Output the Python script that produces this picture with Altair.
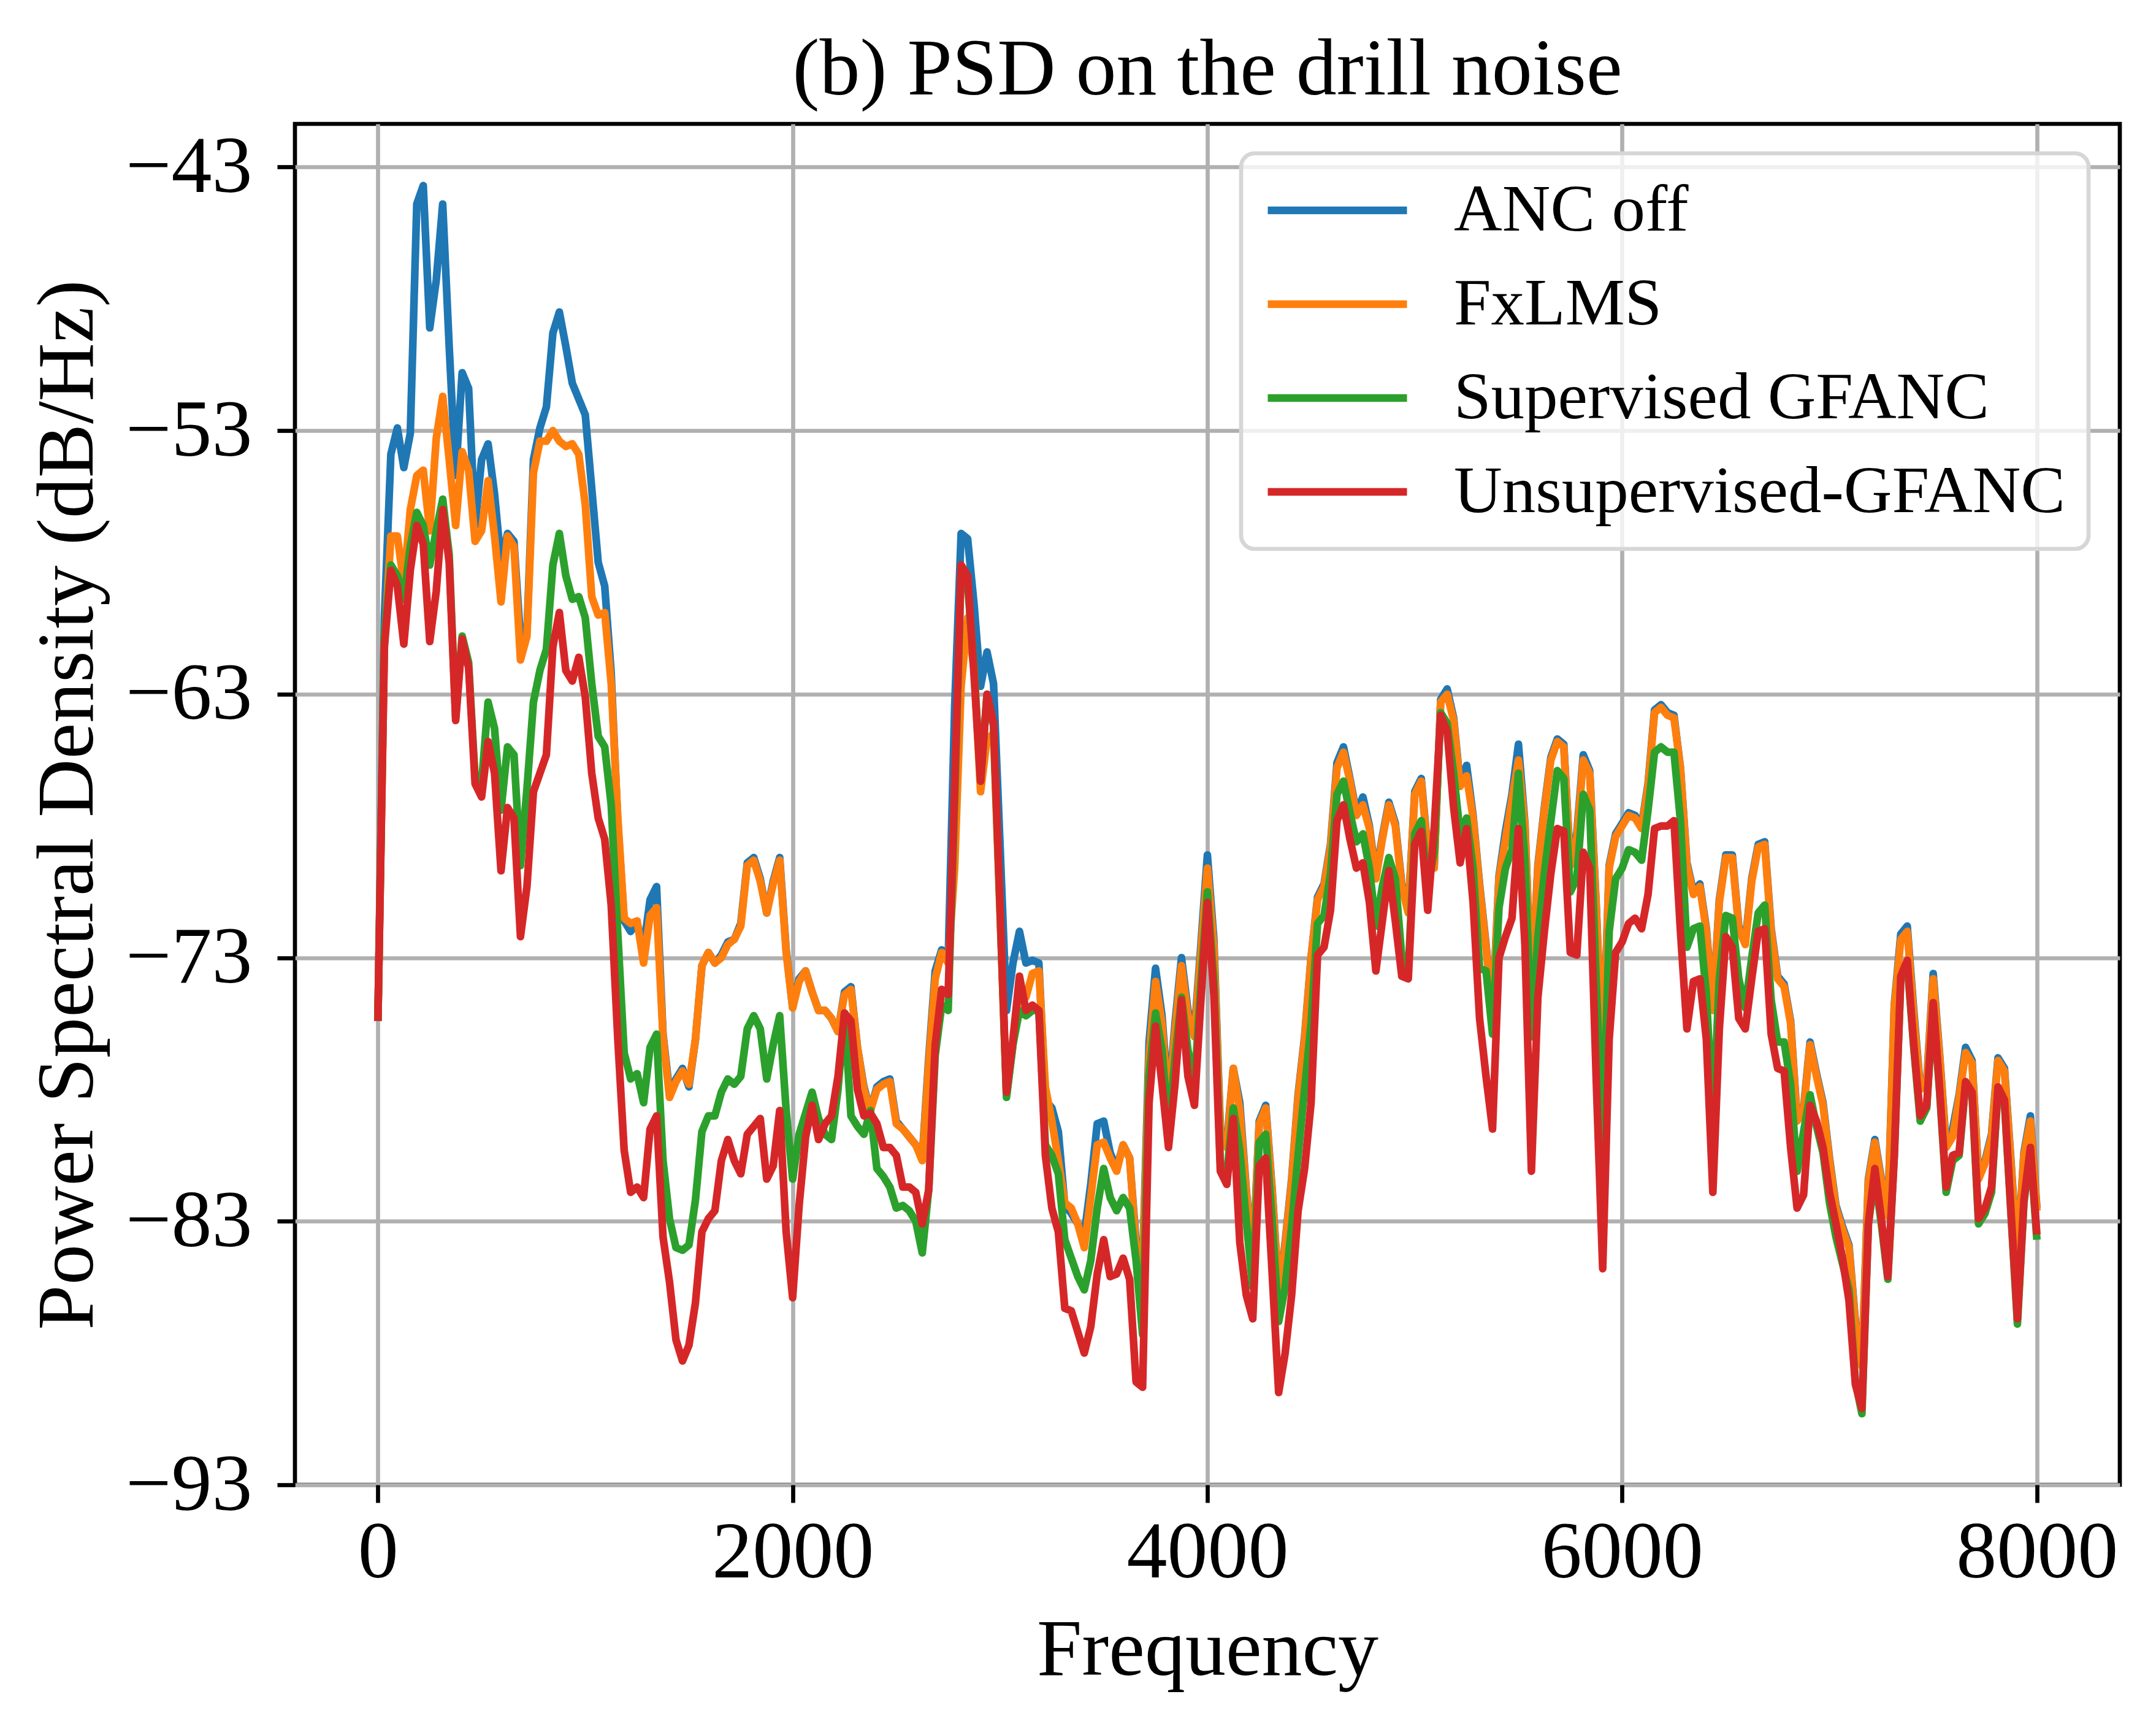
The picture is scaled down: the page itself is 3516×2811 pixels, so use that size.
import altair as alt
import pandas as pd

FREQ_STEP = 31.25  # Hz between PSD bins (257 bins, 0..8000 Hz)

SERIES = ["ANC off", "FxLMS", "Supervised GFANC", "Unsupervised-GFANC"]
COLORS = ["#1f77b4", "#ff7f0e", "#2ca02c", "#d62728"]

X_TICKS = [0, 2000, 4000, 6000, 8000]
Y_TICKS = [-93, -83, -73, -63, -53, -43]

anc_off = [
    -75.4, -60.1, -53.9, -52.9, -54.4, -53.1, -44.4, -43.7, -49.1, -47.3,
    -44.4, -49.8, -54.7, -50.8, -51.4, -56.6, -54.1, -53.5, -55.4, -58.0,
    -56.9, -57.2, -60.9, -60.6, -54.1, -52.9, -52.1, -49.3, -48.5, -49.8,
    -51.2, -51.8, -52.4, -55.2, -58.0, -58.9, -62.2, -67.8, -71.6, -72.0,
    -71.7, -72.6, -70.8, -70.3, -75.9, -78.1, -77.6, -77.2, -77.9, -76.1,
    -73.3, -72.8, -73.2, -72.9, -72.4, -72.3, -71.7, -69.4, -69.2, -70.0,
    -71.3, -70.1, -69.2, -72.7, -74.9, -73.8, -73.5, -74.3, -75.0, -75.0,
    -75.3, -75.8, -74.3, -74.1, -76.4, -77.9, -78.8, -77.9, -77.7, -77.6,
    -79.2, -79.5, -79.8, -80.1, -80.6, -76.8, -73.5, -72.7, -73.1, -63.5,
    -56.9, -57.1, -59.6, -62.7, -61.4, -62.6, -68.7, -75.0, -73.2, -72.0,
    -73.2, -73.1, -73.2, -78.4, -78.7, -79.6, -82.4, -82.7, -83.1, -83.5,
    -81.6, -79.3, -79.2, -80.4, -81.0, -80.1, -80.6, -83.8, -84.8, -76.2,
    -73.4, -75.2, -78.5, -75.5, -73.0, -75.0, -75.8, -72.5, -69.1, -72.3,
    -79.5, -80.0, -77.2, -78.5, -81.8, -84.6, -79.2, -78.6, -81.8, -85.7,
    -83.8, -81.4, -78.2, -76.0, -73.0, -70.7, -70.2, -68.7, -65.6, -65.0,
    -66.2, -67.5, -66.9, -68.0, -69.9, -68.4, -67.1, -67.9, -70.2, -71.2,
    -66.7, -66.2, -68.9, -69.5, -63.2, -62.8, -63.9, -66.4, -65.7, -67.6,
    -70.2, -72.5, -75.1, -69.9, -68.2, -66.8, -64.9, -67.9, -74.5, -69.5,
    -67.3, -65.4, -64.7, -64.9, -69.4, -68.3, -65.3, -65.9, -71.0, -77.1,
    -69.5, -68.3, -67.9, -67.5, -67.6, -68.0, -66.4, -63.6, -63.4, -63.7,
    -63.8, -65.8, -69.4, -70.5, -70.2, -71.9, -74.9, -70.8, -69.1, -69.1,
    -71.8, -72.4, -70.0, -68.7, -68.6, -71.9, -73.7, -74.0, -75.4, -79.1,
    -78.7, -76.2, -77.4, -78.5, -80.6, -82.4, -83.2, -83.9, -86.8, -88.4,
    -81.4, -79.9, -81.4, -82.7, -74.8, -72.1, -71.8, -75.0, -77.9, -77.7,
    -73.6, -76.7, -80.1, -79.5, -78.2, -76.4, -76.9, -81.3, -80.7, -79.7,
    -76.8, -77.2, -80.7, -84.4, -80.4, -79.0, -82.5,
]

fxlms = [
    -75.4, -61.2, -57.0, -57.0, -58.8, -56.0, -54.7, -54.5, -56.8, -53.3,
    -51.7, -54.1, -56.6, -53.8, -54.5, -57.2, -56.8, -54.9, -57.0, -59.5,
    -57.0, -57.4, -61.7, -60.8, -54.6, -53.4, -53.4, -53.0, -53.4, -53.6,
    -53.5, -53.9, -55.8, -59.3, -60.0, -59.9, -62.6, -67.6, -71.5, -71.7,
    -71.6, -73.2, -71.4, -71.1, -76.0, -78.3, -77.7, -77.3, -77.8, -76.1,
    -73.3, -72.8, -73.2, -73.0, -72.5, -72.3, -71.8, -69.5, -69.3, -70.1,
    -71.3, -70.2, -69.3, -72.8, -74.9, -73.9, -73.5, -74.3, -75.0, -75.0,
    -75.3, -75.8, -74.4, -74.2, -76.4, -78.0, -78.8, -78.0, -77.8, -77.7,
    -79.3, -79.5, -79.8, -80.1, -80.7, -77.0, -73.8, -72.8, -73.2, -69.6,
    -62.7, -60.1, -62.1, -66.7, -64.7, -64.5, -71.3, -78.2, -76.3, -74.1,
    -74.5, -73.6, -73.5, -77.9, -79.2, -80.7, -82.3, -82.5, -83.1, -84.0,
    -82.1, -80.1, -80.0, -80.6, -81.1, -80.1, -80.6, -84.0, -85.0, -76.8,
    -73.9, -75.5, -78.8, -75.8, -73.3, -75.2, -76.0, -72.8, -69.6, -72.6,
    -79.7, -80.2, -77.2, -78.8, -81.9, -84.7, -79.3, -78.7, -81.9, -85.8,
    -83.9, -81.5, -78.3, -76.1, -73.0, -70.8, -70.3, -68.8, -65.8, -65.2,
    -66.3, -67.6, -67.2, -68.1, -70.0, -68.5, -67.2, -68.0, -70.3, -71.3,
    -66.8, -66.3, -69.0, -69.6, -63.3, -63.0, -64.0, -66.5, -66.1, -67.7,
    -70.3, -72.6, -75.2, -70.0, -68.5, -67.0, -65.5, -68.0, -74.6, -69.6,
    -67.4, -65.5, -64.8, -65.0, -69.5, -68.5, -65.5, -66.0, -71.1, -77.2,
    -69.6, -68.4, -68.0, -67.6, -67.7, -68.1, -66.5, -63.7, -63.5, -63.8,
    -63.9, -65.8, -69.5, -70.6, -70.3, -72.0, -75.0, -70.9, -69.2, -69.2,
    -71.9, -72.5, -70.1, -68.8, -68.7, -72.0, -73.8, -74.1, -75.5, -79.2,
    -78.8, -76.3, -77.5, -78.6, -80.7, -82.5, -83.3, -84.0, -86.9, -88.5,
    -81.5, -80.0, -81.5, -82.8, -74.9, -72.3, -72.0, -75.2, -78.0, -77.8,
    -73.8, -76.8, -80.2, -79.8, -78.3, -76.6, -77.0, -81.4, -80.8, -79.8,
    -76.9, -77.3, -80.8, -84.5, -80.5, -79.2, -82.6,
]

supervised = [
    -75.4, -60.8, -58.1, -58.5, -59.4, -57.4, -56.1, -56.6, -58.1, -56.8,
    -55.6, -57.7, -63.9, -60.8, -61.8, -66.2, -66.4, -63.3, -64.3, -67.4,
    -65.0, -65.3, -69.5, -66.6, -63.3, -62.1, -61.3, -58.1, -56.9, -58.5,
    -59.4, -59.3, -60.1, -62.6, -64.6, -65.0, -67.2, -72.0, -76.6, -77.6,
    -77.4, -78.5, -76.4, -75.9, -80.7, -82.9, -84.0, -84.1, -83.9, -82.2,
    -79.6, -79.0, -79.0, -78.1, -77.6, -77.8, -77.5, -75.7, -75.2, -75.7,
    -77.6, -76.3, -75.2, -78.8, -81.4, -79.7, -78.9, -78.1, -79.1, -79.7,
    -79.9, -78.0, -75.1, -79.0, -79.4, -79.7, -78.8, -81.0, -81.3, -81.7,
    -82.5, -82.4, -82.6, -83.0, -84.2, -81.8, -76.7, -74.8, -75.0, -67.0,
    -58.3, -58.8, -62.0, -66.3, -63.0, -64.2, -71.1, -78.3, -76.3, -75.0,
    -75.2, -75.0, -75.0, -80.1, -80.5, -81.2, -83.7, -84.4, -85.1, -85.6,
    -84.5, -82.5, -81.0, -82.1, -82.6, -82.1, -82.5, -84.5, -87.3, -77.5,
    -75.1, -76.5, -79.5, -76.8, -74.5, -76.5, -77.8, -74.0, -70.5, -73.9,
    -80.8, -81.2, -78.7, -80.3, -83.0, -85.5, -80.0, -79.7, -83.0, -86.8,
    -85.5, -83.2, -80.5, -78.0, -75.5, -71.7, -71.4, -69.8, -66.8, -66.3,
    -67.5, -68.6, -68.3, -69.6, -71.8, -70.3, -69.2, -70.0, -73.0, -73.5,
    -68.3, -67.8, -70.3, -69.0, -63.7, -64.1, -66.0, -68.3, -67.7, -69.6,
    -73.4, -73.5, -75.9, -71.1, -69.6, -68.9, -66.0, -69.3, -76.0, -72.2,
    -69.8, -67.8, -65.9, -66.2, -70.5, -70.0, -66.8, -67.4, -73.9, -80.0,
    -72.0, -70.0, -69.6, -68.9, -69.0, -69.3, -67.4, -65.2, -65.0, -65.2,
    -65.2, -67.8, -72.6, -71.9, -71.8, -74.4, -79.2, -73.8, -71.4, -71.5,
    -73.8, -74.9, -73.0, -71.3, -71.0, -74.6, -76.2, -76.2, -77.8, -81.1,
    -79.6, -78.2, -79.4, -80.4, -82.3, -83.6, -84.6, -85.6, -89.1, -90.3,
    -83.1, -81.3, -83.1, -85.2, -80.5, -73.8, -73.2, -76.4, -79.2, -78.7,
    -74.8, -78.1, -81.9, -80.7, -80.5, -77.8, -78.2, -83.1, -82.7, -81.9,
    -78.0, -78.5, -82.7, -86.9, -82.3, -80.3, -83.7,
]

unsupervised = [
    -75.4, -61.2, -58.3, -58.9, -61.1, -58.3, -56.6, -57.3, -61.0, -59.1,
    -56.0, -58.0, -64.0, -60.9, -62.0, -66.4, -66.9, -64.8, -66.0, -69.7,
    -67.3, -67.7, -72.2, -70.3, -66.7, -66.0, -65.3, -61.2, -59.9, -62.1,
    -62.5, -61.6, -63.1, -66.0, -67.7, -68.5, -71.0, -76.0, -80.3, -81.9,
    -81.7, -82.1, -79.5, -79.0, -83.6, -85.3, -87.5, -88.3, -87.7, -86.1,
    -83.4, -82.9, -82.6, -80.7, -79.9, -80.7, -81.2, -79.7, -79.4, -79.1,
    -81.4, -80.9, -78.8, -83.4, -85.9, -82.4, -79.8, -78.6, -79.9, -79.3,
    -79.0, -77.5, -75.1, -75.4, -78.0, -79.0, -78.9, -79.3, -80.2, -80.2,
    -80.5, -81.7, -81.7, -81.9, -83.1, -81.8, -76.3, -74.2, -74.4, -66.5,
    -58.1, -58.5, -62.3, -66.3, -63.0, -64.1, -71.0, -78.1, -76.1, -73.7,
    -75.0, -74.8, -75.0, -80.5, -82.5, -83.4, -86.3, -86.4, -87.2, -88.0,
    -87.0, -85.0, -83.7, -85.1, -85.0, -84.4, -85.2, -89.1, -89.3, -78.5,
    -75.6, -77.8, -80.2, -77.8, -74.6, -77.5, -78.6, -74.6, -70.9, -74.4,
    -81.1, -81.6, -79.1, -83.8, -85.8, -86.7, -80.9, -80.6, -85.0, -89.5,
    -88.0, -85.8, -82.6, -81.0, -78.5, -72.9, -72.6, -71.2, -67.8, -67.2,
    -68.5, -69.6, -69.4, -70.9, -73.5, -71.6, -69.7, -71.6, -73.7, -73.8,
    -68.7, -68.2, -71.2, -68.1, -63.8, -64.4, -67.3, -69.4, -68.1, -70.9,
    -75.3, -77.5, -79.5, -73.0, -72.2, -71.5, -68.1, -72.5, -81.1, -74.5,
    -72.0, -69.8, -68.1, -68.2, -72.8, -72.9, -69.0, -69.6, -77.6, -84.8,
    -76.1, -72.8, -72.4, -71.7, -71.5, -71.9, -70.6, -68.1, -68.0, -68.0,
    -67.8, -72.0, -75.7, -73.9, -73.8, -76.1, -81.9, -75.7, -72.2, -72.6,
    -75.3, -75.7, -73.8, -72.0, -71.9, -75.9, -77.2, -77.3, -80.2, -82.5,
    -82.0, -78.6, -79.2, -80.2, -81.9, -83.1, -84.4, -86.0, -89.2, -90.1,
    -83.1, -81.0, -82.9, -85.1, -80.5, -73.7, -73.1, -76.3, -79.0, -78.6,
    -74.7, -78.0, -81.7, -80.5, -80.4, -77.7, -78.1, -82.9, -82.5, -81.7,
    -77.9, -78.4, -82.6, -86.7, -82.2, -80.2, -83.5,
]

values = [anc_off, fxlms, supervised, unsupervised]
rows = []
for name, vals in zip(SERIES, values):
    for k, v in enumerate(vals):
        rows.append({"freq": k * FREQ_STEP, "psd": v, "series": name})
df = pd.DataFrame(rows)

FONT = "Liberation Serif"

color = alt.Color(
    "series:N",
    scale=alt.Scale(domain=SERIES, range=COLORS),
    legend=alt.Legend(
        title=None,
        orient="none",
        legendX=1543,
        legendY=48,
        symbolType="stroke",
        symbolSize=51529,
        symbolStrokeWidth=12.5,
        clipHeight=112,
        labelFont=FONT,
        labelFontSize=109,
        labelColor="black",
        labelOffset=70,
        rowPadding=41,
        padding=37,
        fillColor="rgba(255,255,255,0.8)",
        strokeColor="#d6d6d6",
        cornerRadius=22,
        labelLimit=3000,
    ),
)

x = alt.X(
    "freq:Q",
    scale=alt.Scale(domain=[-400, 8400], nice=False, zero=False),
    axis=alt.Axis(
        values=X_TICKS,
        format="d",
        title="Frequency",
        titleX=1488,
        titleY=309,
        titleBaseline="alphabetic",
        titleAlign="center",
        labelBaseline="top",
        labelPadding=17,
        labelLimit=3000,
    ),
)
y = alt.Y(
    "psd:Q",
    scale=alt.Scale(domain=[-93, -41.36], nice=False, zero=False),
    axis=alt.Axis(
        values=Y_TICKS,
        title="Power Spectral Density (dB/Hz)",
        titleAngle=270,
        titleX=-331,
        titleY=1110,
        titleBaseline="alphabetic",
        titleAlign="center",
        titleLimit=5000,
        labelPadding=41,
        labelLimit=3000,
        labelExpr="replace(format(datum.value, 'd'), '-', '\u2212')",
    ),
)

layers = []
for name in SERIES:
    layers.append(
        alt.Chart(df)
        .transform_filter(alt.datum.series == name)
        .mark_line(strokeWidth=12.5, strokeJoin="round", strokeCap="butt")
        .encode(x=x, y=y, color=color)
    )

chart = (
    alt.layer(*layers)
    .properties(
        width=2976,
        height=2219,
        autosize=alt.AutoSizeParams(type="none"),
        padding={"left": 473, "top": 194, "right": 51, "bottom": 380},
        title=alt.TitleParams(
            text="(b) PSD on the drill noise",
            font=FONT,
            fontSize=132,
            fontWeight="normal",
            color="black",
            anchor="middle",
            frame="group",
            baseline="alphabetic",
            offset=50,
            dy=134,
            limit=5000,
        ),
    )
    .configure(font=FONT, background="white")
    .configure_view(stroke="black", strokeWidth=6.7)
    .configure_axis(
        domain=False,
        grid=True,
        gridColor="#b0b0b0",
        gridWidth=6.7,
        gridOpacity=1,
        ticks=True,
        tickColor="black",
        tickWidth=6.7,
        tickSize=29,
        labelFont=FONT,
        labelFontSize=132,
        labelColor="black",
        titleFont=FONT,
        titleFontSize=132,
        titleFontWeight="normal",
        titleColor="black",
    )
    .configure_legend(strokeWidth=6.7)
)

chart.save("out.html", embed_options={"renderer": "svg", "actions": False})
